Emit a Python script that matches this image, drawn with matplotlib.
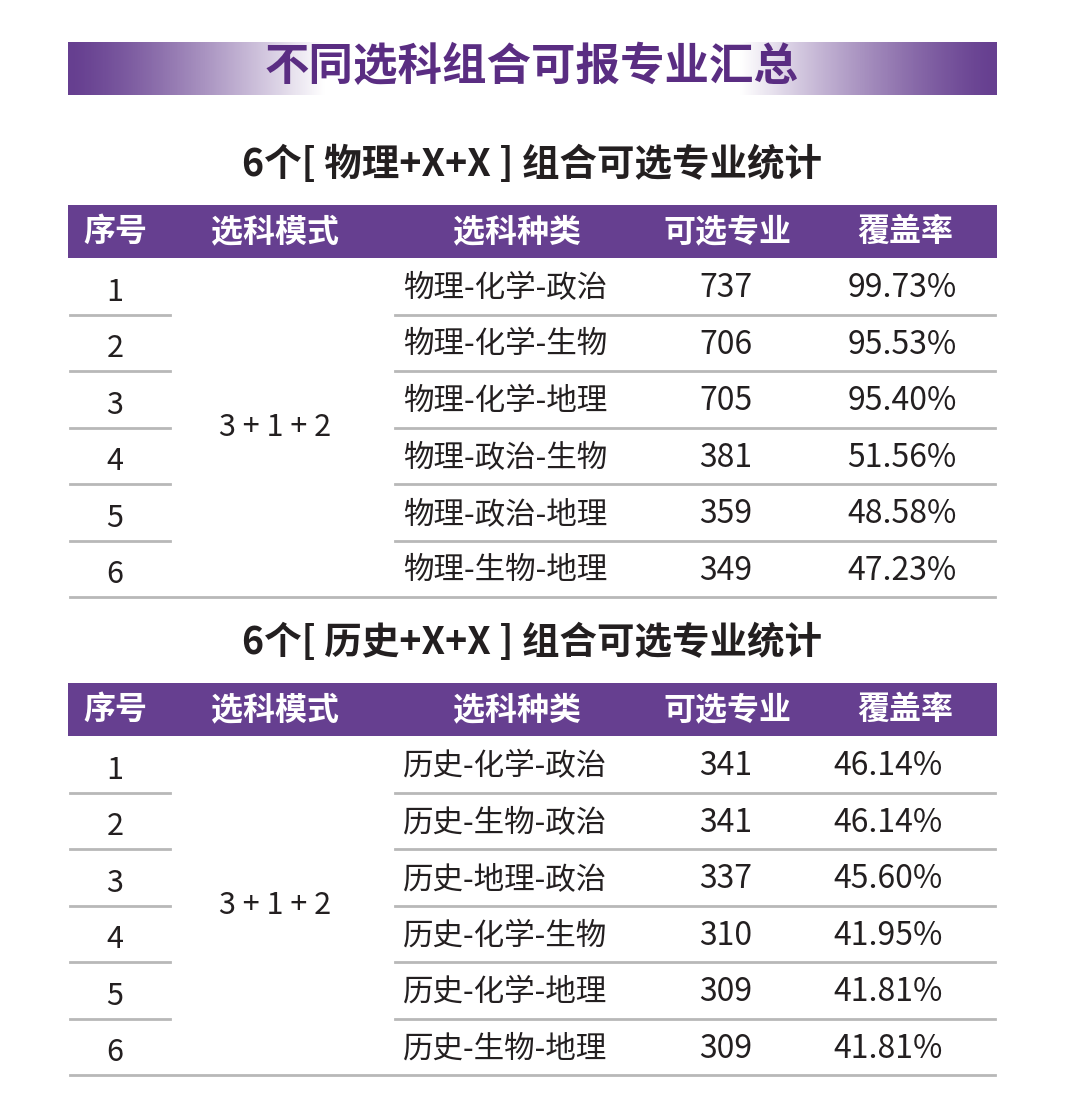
import matplotlib.pyplot as plt
import numpy as np
from matplotlib.colors import LinearSegmentedColormap

plt.rcParams['font.family'] = 'Noto Sans CJK SC'

TITLE = "不同选科组合可报专业汇总"
HEADERS = ["序号", "选科模式", "选科种类", "可选专业", "覆盖率"]
MODE = "3 + 1 + 2"

PHYS_TITLE = "6个[ 物理+X+X ] 组合可选专业统计"
PHYS_COMBOS = ["物理-化学-政治", "物理-化学-生物", "物理-化学-地理",
               "物理-政治-生物", "物理-政治-地理", "物理-生物-地理"]
PHYS_COUNTS = [737, 706, 705, 381, 359, 349]
PHYS_RATES = ["99.73%", "95.53%", "95.40%", "51.56%", "48.58%", "47.23%"]

HIST_TITLE = "6个[ 历史+X+X ] 组合可选专业统计"
HIST_COMBOS = ["历史-化学-政治", "历史-生物-政治", "历史-地理-政治",
               "历史-化学-生物", "历史-化学-地理", "历史-生物-地理"]
HIST_COUNTS = [341, 341, 337, 310, 309, 309]
HIST_RATES = ["46.14%", "46.14%", "45.60%", "41.95%", "41.81%", "41.81%"]

PURPLE = "#663f90"
TEXT = "#231f20"
LINE = "#b8b8b8"

fig = plt.figure(figsize=(10.8, 11.15), dpi=100)
ax = fig.add_axes([0, 0, 1, 1])
ax.set_xlim(0, 1080)
ax.set_ylim(1115, 0)
ax.axis('off')

# banner: purple edges fading to white in the middle
cmap = LinearSegmentedColormap.from_list("b", [PURPLE, "#ffffff"])
ramp = np.clip(1 - (np.abs(np.linspace(-1, 1, 400)) - 0.45) / 0.55, 0, 1)
ax.imshow(ramp[None, :] ** 1.3, cmap=cmap, aspect='auto',
          extent=(68, 997, 95, 42), vmin=0, vmax=1)
ax.text(532, 67, TITLE, ha='center', va='center', fontsize=32, fontweight='bold', color="#5a2d82")


def draw_table(top, title, combos, counts, rates, rate_x):
    ax.text(532, top - 40, title, ha='center', va='center', fontsize=27, fontweight='bold', color=TEXT)
    ax.add_patch(plt.Rectangle((68, top), 929, 53, color=PURPLE, lw=0))
    for h, x in zip(HEADERS, [115, 275, 517, 727, 905]):
        ax.text(x, top + 27, h, ha='center', va='center', fontsize=23, fontweight='bold', color='white')
    row_h = 56.5
    y0 = top + 53
    for i, (c, n, r) in enumerate(zip(combos, counts, rates)):
        yc = y0 + row_h * i + row_h / 2 + 6
        ax.text(115, yc, str(i + 1), ha='center', va='center', fontsize=22, color=TEXT)
        ax.text(403, yc - 4, c, ha='left', va='center', fontsize=22, color=TEXT)
        ax.text(726, yc - 4, str(n), ha='center', va='center', fontsize=23, color=TEXT)
        ax.text(rate_x, yc - 4, r, ha='center', va='center', fontsize=23, color=TEXT)
        yl = y0 + row_h * (i + 1)
        if i < len(combos) - 1:
            ax.plot([70, 170], [yl, yl], color=LINE, lw=2)
            ax.plot([395, 995], [yl, yl], color=LINE, lw=2)
        else:
            ax.plot([70, 995], [yl, yl], color=LINE, lw=2)
    ax.text(275, y0 + row_h * 3, MODE, ha='center', va='center', fontsize=22, color=TEXT)


draw_table(205, PHYS_TITLE, PHYS_COMBOS, PHYS_COUNTS, PHYS_RATES, 902)
draw_table(683, HIST_TITLE, HIST_COMBOS, HIST_COUNTS, HIST_RATES, 888)

fig.savefig("out.png", dpi=100)
